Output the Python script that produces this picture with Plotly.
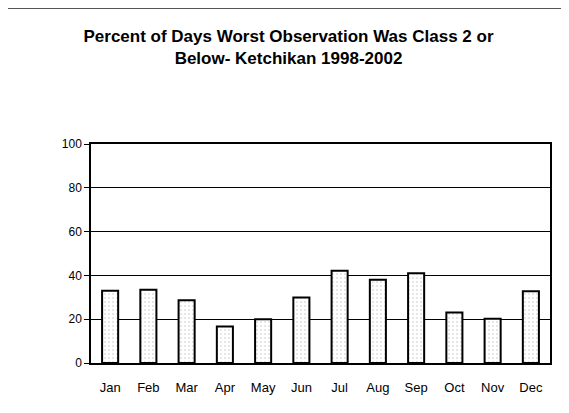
import plotly.graph_objects as go

months = ["Jan", "Feb", "Mar", "Apr", "May", "Jun", "Jul", "Aug", "Sep", "Oct", "Nov", "Dec"]
percent = [33.0, 33.4, 28.7, 16.7, 20.0, 29.9, 42.1, 38.0, 41.0, 23.1, 20.2, 32.8]
y_ticks = [0, 20, 40, 60, 80, 100]

# the page body adds an 8px offset, so the figure is sized to fit the rest
W, H = 561, 405
L, R, T, B = 83, 19, 136, 50
pw, ph = W - L - R, H - T - B

idx = list(range(len(months)))
boundaries = [i - 0.5 for i in range(len(months) + 1)]

fig = go.Figure()
fig.add_trace(go.Bar(
    x=idx,
    y=percent,
    width=0.42,
    marker=dict(
        color="white",
        line=dict(color="black", width=2),
        pattern=dict(shape=".", fgcolor="#888888", bgcolor="white",
                     size=4, solidity=0.12, fillmode="overlay"),
    ),
    showlegend=False,
))
# category-boundary tick marks below the x axis
fig.add_trace(go.Scatter(
    x=boundaries, y=[-1.3] * len(boundaries),
    mode="markers", cliponaxis=False,
    marker=dict(symbol="line-ns-open", size=5, color="black",
                line=dict(color="black", width=1)),
    showlegend=False, hoverinfo="skip",
))

font = "Liberation Sans, Arial, sans-serif"
fig.update_layout(
    width=W, height=H,
    margin=dict(l=L, r=R, t=T, b=B),
    paper_bgcolor="white", plot_bgcolor="white",
    font=dict(family=font, size=12, color="black"),
    title=dict(
        text="<b>Percent of Days Worst Observation Was Class 2 or<br>Below- Ketchikan 1998-2002</b>",
        x=0.5, xanchor="center", y=1 - 34 / H, yanchor="top",
        font=dict(family=font, size=17, color="black"),
    ),
    xaxis=dict(
        range=[-0.5, 11.5],
        tickmode="array", tickvals=idx, ticktext=months,
        showgrid=False, zeroline=False,
        showline=True, linecolor="black", linewidth=1.5, mirror=True,
        ticks="outside", ticklen=12, tickcolor="rgba(0,0,0,0)",
        tickfont=dict(size=13),
    ),
    yaxis=dict(
        range=[0, 100],
        tickmode="array", tickvals=y_ticks,
        showgrid=True, gridcolor="black", gridwidth=1,
        zeroline=False,
        showline=True, linecolor="black", linewidth=1.5, mirror=True,
        ticks="outside", ticklen=5, tickcolor="black",
        tickfont=dict(size=12),
    ),
    bargap=0.58,
)

# outer chart frame (top and right edges)
y_top = (H - B - 0.5) / ph
x_right = (W - 1 - L) / pw
fig.add_shape(type="line", xref="paper", yref="paper",
              x0=-L / pw, x1=x_right, y0=y_top, y1=y_top,
              line=dict(color="#555555", width=1))
fig.add_shape(type="line", xref="paper", yref="paper",
              x0=x_right, x1=x_right, y0=-B / ph, y1=y_top,
              line=dict(color="#555555", width=1))

fig.write_html("out.html")
